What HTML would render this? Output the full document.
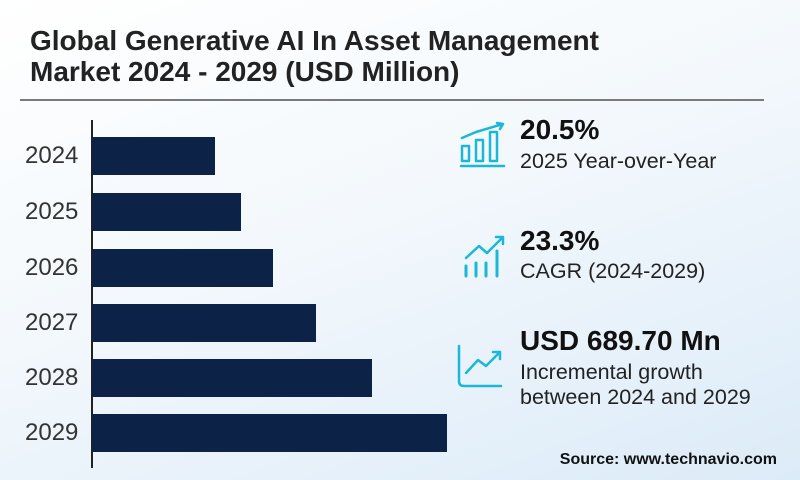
<!DOCTYPE html>
<html><head><style>
body{margin:0;width:800px;height:480px;overflow:hidden;font-family:"Liberation Sans",sans-serif;}
.bg{position:absolute;left:0;top:0;width:800px;height:480px;background:linear-gradient(160deg,#ffffff 0%,#f3f8fc 45%,#dcebf8 100%);}
.t{position:absolute;left:30px;font-weight:bold;font-size:28px;color:#222;white-space:nowrap;}
.bar{position:absolute;left:92px;height:38px;background:#0c2347;}
.yl{position:absolute;left:25px;font-size:24px;color:#333;}
.big{position:absolute;left:520px;font-weight:bold;font-size:28px;color:#111;}
.sm{position:absolute;left:520px;font-size:21.5px;color:#222;line-height:25px;}
</style></head><body>
<div class="bg"></div>
<div class="t" style="top:25px">Global Generative AI In Asset Management</div>
<div class="t" style="top:56px">Market 2024 - 2029 (USD Million)</div>
<div style="position:absolute;left:20px;top:99px;width:744px;height:2px;background:#7a7a7a"></div>
<div style="position:absolute;left:91px;top:120px;width:1.5px;height:348px;background:#222"></div>
<div class="bar" style="top:137px;width:123px"></div>
<div class="bar" style="top:193px;width:149px"></div>
<div class="bar" style="top:249px;width:181px"></div>
<div class="bar" style="top:304px;width:224px"></div>
<div class="bar" style="top:359px;width:280px"></div>
<div class="bar" style="top:414px;width:355px"></div>
<div class="yl" style="top:142px">2024</div>
<div class="yl" style="top:198px">2025</div>
<div class="yl" style="top:254px">2026</div>
<div class="yl" style="top:309px">2027</div>
<div class="yl" style="top:364px">2028</div>
<div class="yl" style="top:419px">2029</div>
<svg style="position:absolute;left:0;top:0" width="800" height="480" fill="none" stroke="#1ab8d6" stroke-width="2.5" stroke-linecap="round" stroke-linejoin="round">
<path d="M461 166H504"/>
<rect x="462" y="146" width="7" height="15"/><rect x="476" y="140" width="7" height="21"/><rect x="490" y="132" width="7" height="29"/>
<path d="M462 138L476 132L503 124M497 123L503 124L500 129"/>
<path d="M466 258L479 246L487 253L503 237M496 237L503 237L503 244"/>
<path d="M466 266V276M476 263V276M486 263V276M497 251V276" stroke-width="3"/>
<path d="M459 346V381Q459 386 464 386H501"/>
<path d="M466 373L478 360L486 366L500 352M493 352L500 352L500 359"/>
</svg>
<div class="big" style="top:114px">20.5%</div>
<div class="sm" style="top:149px">2025 Year-over-Year</div>
<div class="big" style="top:225px">23.3%</div>
<div class="sm" style="top:259px">CAGR (2024-2029)</div>
<div class="big" style="top:325px">USD 689.70 Mn</div>
<div class="sm" style="top:360px">Incremental growth<br>between 2024 and 2029</div>
<div style="position:absolute;right:23px;top:451px;font-weight:bold;font-size:16px;color:#111">Source: www.technavio.com</div>
</body></html>
